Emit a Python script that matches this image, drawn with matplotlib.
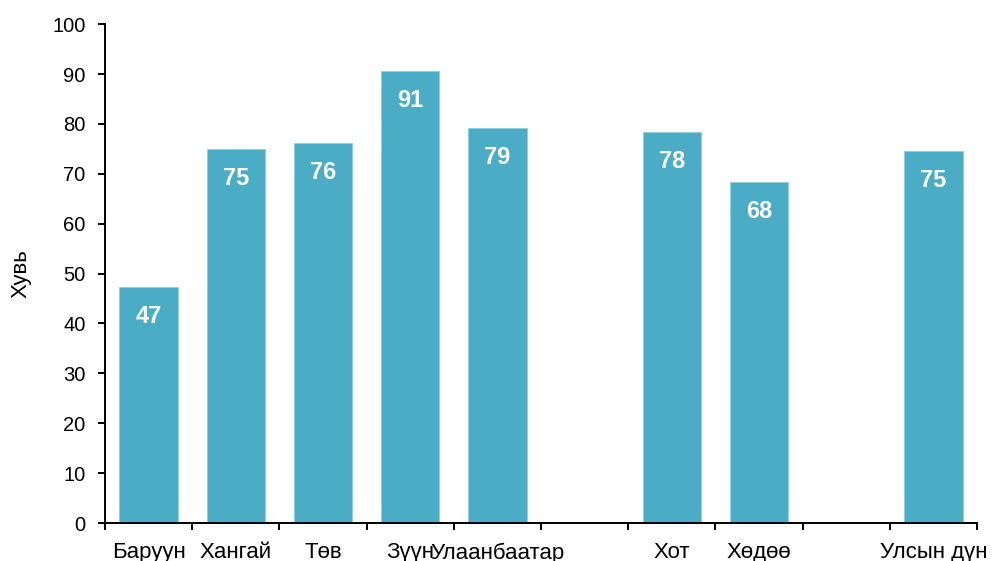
import matplotlib.pyplot as plt
import numpy as np

plt.rcParams['font.family'] = ['Liberation Sans', 'DejaVu Sans']

# gap slots are empty labels with no value
regions = ["Баруун", "Хангай", "Төв", "Зүүн", "Улаанбаатар", "", "Хот", "Хөдөө", "", "Улсын дүн"]
values = [47.3, 74.9, 76.1, 90.6, 79.1, np.nan, 78.3, 68.3, np.nan, 74.5]
value_labels = ["47", "75", "76", "91", "79", "", "78", "68", "", "75"]

fig = plt.figure(figsize=(9.93, 5.61), dpi=100)
ax = fig.add_axes([0.1057, 0.0677, 0.8783, 0.8893])

x = np.arange(len(regions))
bars = ax.bar(x, values, width=0.67, color="#4BACC6", edgecolor="#8FD0E0", linewidth=0.6)

for xi, v, lab in zip(x, values, value_labels):
    if np.isnan(v):
        continue
    ax.annotate(lab, (xi, v), xytext=(0, -21), textcoords="offset points",
                ha="center", va="center", color="white", fontsize=17, fontweight="bold")

ax.set_xlim(-0.5, len(regions) - 0.5)
ax.set_ylim(0, 100)
ax.set_yticks(np.arange(0, 101, 10))
ax.set_xticks(x)
ax.set_xticklabels(regions)
ax.set_xticks(np.arange(-0.5, len(regions), 1), minor=True)
ax.tick_params(axis="x", which="major", length=0, labelsize=16, pad=14)
ax.tick_params(axis="x", which="minor", length=5, width=1.4, direction="out")
ax.tick_params(axis="y", length=5, width=1.4, labelsize=14.5, pad=9)
ax.set_ylabel("Хувь", fontsize=16, labelpad=15)

for s in ["top", "right"]:
    ax.spines[s].set_visible(False)
for s in ["left", "bottom"]:
    ax.spines[s].set_linewidth(1.4)

fig.savefig("out.png", dpi=100)
